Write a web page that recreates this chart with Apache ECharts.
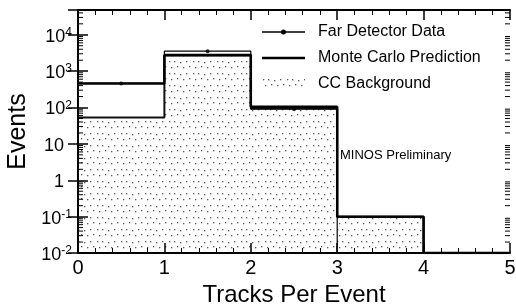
<!DOCTYPE html>
<html>
<head>
<meta charset="utf-8">
<script src="https://cdn.jsdelivr.net/npm/echarts@6/dist/echarts.min.js"></script>
<style>
html, body { margin: 0; padding: 0; background: #fff; }
#chart { width: 516px; height: 308px; }
</style>
</head>
<body>
<div id="chart"></div>
<script>
// histogram bins (tracks per event)
var binEdges = [0, 1, 2, 3, 4, 5];
var farData = [460, 3550, 90, 0, 0];
var mcPred = [456, 2800, 105, 0.1, 0];
var ccBack = [53, 2700, 95, 0.1, 0];
var xTicks = [0, 1, 2, 3, 4, 5];
var yDecades = [0.01, 0.1, 1, 10, 100, 1000, 10000];
var yMinorSteps = [2, 3, 4, 5, 6, 7, 8, 9];
var yMin = 0.01, yMax = 48000;

var chart = echarts.init(document.getElementById('chart'), null, {renderer: 'canvas'});

// dotted fill like the print
function makePattern() {
    var c = document.createElement('canvas');
    c.width = 24; c.height = 12;
    var g = c.getContext('2d');
    g.fillStyle = '#fff';
    g.fillRect(0, 0, 24, 12);
    g.fillStyle = '#555';
    var dots = [[1, 1], [6, 1], [12, 2], [18, 1], [3, 7], [9, 6], [15, 7], [21, 6]];
    for (var i = 0; i < dots.length; i++) g.fillRect(dots[i][0], dots[i][1], 1.3, 1.3);
    return c;
}
var pattern = {image: makePattern(), repeat: 'repeat'};

function stepPoints(vals) {
    var pts = [];
    for (var i = 0; i < vals.length; i++) {
        pts.push([binEdges[i], Math.max(vals[i], yMin)]);
    }
    pts.push([binEdges[vals.length], yMin]);
    return pts;
}
function centerPoints(vals) {
    var pts = [];
    for (var i = 0; i < vals.length; i++) {
        if (vals[i] > 0) pts.push([(binEdges[i] + binEdges[i + 1]) / 2, vals[i]]);
    }
    return pts;
}
// log minor ticks, drawn on both y axes
var minorTicks = [];
for (var d = 0; d < yDecades.length; d++) {
    for (var k = 0; k < yMinorSteps.length; k++) {
        var mv = yDecades[d] * yMinorSteps[k];
        if (mv < yMax) minorTicks.push([0, mv]);
    }
}

function logLabel(v) {
    var l = Math.log10(v);
    var e = Math.round(l);
    if (Math.abs(l - e) > 1e-6) return '';
    if (e === 0) return '{c|1}';
    if (e === 1) return '{c|10}';
    return '{b|10}{s|' + e + '}';
}

var font = 'Liberation Sans, Arial, Helvetica, sans-serif';

var option = {
    animation: false,
    backgroundColor: '#fff',
    textStyle: {fontFamily: font, color: '#000'},
    grid: {left: 78, right: 6, top: 10, bottom: 55, containLabel: false, outerBoundsMode: 'none'},
    title: {
        text: 'MINOS Preliminary',
        left: 335, top: 144,
        textStyle: {fontFamily: font, fontSize: 13, fontWeight: 'normal', color: '#000'}
    },
    legend: {
        orient: 'vertical',
        left: 257, top: 19,
        itemWidth: 51, itemHeight: 12, itemGap: 10,
        textStyle: {fontFamily: font, fontSize: 16, color: '#000'},
        data: [
            {name: 'Far Detector Data', icon: 'path://M0,0M51,12M0,5.3L43,5.3L43,6.7L0,6.7Z M19,6A2.5,2.5,0,1,1,24,6A2.5,2.5,0,1,1,19,6Z'},
            {name: 'Monte Carlo Prediction', icon: 'path://M0,0M51,12M0,4.8L43,4.8L43,7.2L0,7.2Z'},
            {name: 'CC Background', icon: 'path://M0,0M51,12M0,1L43,1L43,11L0,11Z', itemStyle: {color: pattern}}
        ]
    },
    xAxis: [{
        type: 'value', min: 0, max: 5, interval: 1, z: 10,
        name: 'Tracks Per Event', nameLocation: 'middle', nameGap: 28,
        nameTextStyle: {fontSize: 24, fontFamily: font, color: '#000'},
        axisLine: {lineStyle: {color: '#000', width: 2}},
        axisTick: {inside: true, length: 10, lineStyle: {color: '#000', width: 1.5}},
        minorTick: {show: true, splitNumber: 5, length: 5, lineStyle: {color: '#000'}},
        axisLabel: {fontSize: 20, color: '#000', margin: 5, fontFamily: font},
        splitLine: {show: false}
    }, {
        type: 'value', min: 0, max: 5, interval: 1, position: 'top', z: 10,
        axisLine: {lineStyle: {color: '#000', width: 2}},
        axisTick: {inside: true, length: 10, lineStyle: {color: '#000', width: 1.5}},
        minorTick: {show: true, splitNumber: 5, length: 5, lineStyle: {color: '#000'}},
        axisLabel: {show: false},
        splitLine: {show: false}
    }],
    yAxis: [{
        type: 'log', logBase: 10, min: yMin, max: yMax, z: 10,
        name: 'Events', nameLocation: 'middle', nameGap: 45,
        nameTextStyle: {fontSize: 25, fontFamily: font, color: '#000'},
        axisLine: {lineStyle: {color: '#000', width: 2}},
        axisTick: {inside: true, length: 10, lineStyle: {color: '#000', width: 1.5}},
        axisLabel: {
            fontSize: 18, color: '#000', margin: 6, fontFamily: font,
            formatter: logLabel,
            rich: {
                b: {fontSize: 18, lineHeight: 20, fontFamily: font, color: '#000', padding: [4, 0, 0, 0]},
                c: {fontSize: 18, lineHeight: 20, fontFamily: font, color: '#000', padding: [4, 8, 0, 0]},
                s: {fontSize: 12, lineHeight: 12, fontFamily: font, color: '#000', padding: [2, 0, 0, 0], verticalAlign: 'top'}
            }
        },
        splitLine: {show: false}
    }, {
        type: 'log', logBase: 10, min: yMin, max: yMax, position: 'right', z: 10,
        axisLine: {lineStyle: {color: '#000', width: 2}},
        axisTick: {inside: true, length: 10, lineStyle: {color: '#000', width: 1.5}},
        axisLabel: {show: false},
        splitLine: {show: false}
    }],
    series: [
        {
            name: 'CC Background', type: 'line', step: 'end',
            data: stepPoints(ccBack), showSymbol: false, symbol: 'none',
            color: '#000',
            lineStyle: {color: '#111', width: 2},
            areaStyle: {color: pattern, origin: 'start', opacity: 1},
            z: 1
        },
        {
            name: 'Monte Carlo Prediction', type: 'line', step: 'end',
            data: stepPoints(mcPred), showSymbol: false, symbol: 'none',
            color: '#000',
            lineStyle: {color: '#000', width: 2.5},
            z: 2
        },
        {
            name: 'Far Detector Data', type: 'line', step: 'end',
            data: stepPoints(farData), showSymbol: false, symbol: 'none',
            color: '#000',
            lineStyle: {color: '#000', width: 1.2},
            z: 3
        },
        {
            name: 'Far Detector Data', type: 'scatter',
            data: centerPoints(farData), symbolSize: 4,
            itemStyle: {color: '#000'},
            z: 4
        },
        {
            name: 'minor ticks', type: 'custom', silent: true, z: 11,
            data: minorTicks,
            encode: {x: 0, y: 1},
            renderItem: function (params, api) {
                var v = api.value(1);
                var pl = api.coord([0, v]);
                var pr = api.coord([5, v]);
                return {
                    type: 'group',
                    children: [
                        {type: 'line', shape: {x1: pl[0], y1: pl[1], x2: pl[0] + 5, y2: pl[1]}, style: {stroke: '#000', lineWidth: 1}},
                        {type: 'line', shape: {x1: pr[0], y1: pr[1], x2: pr[0] - 5, y2: pr[1]}, style: {stroke: '#000', lineWidth: 1}}
                    ]
                };
            }
        }
    ]
};
chart.setOption(option);
</script>
</body>
</html>
